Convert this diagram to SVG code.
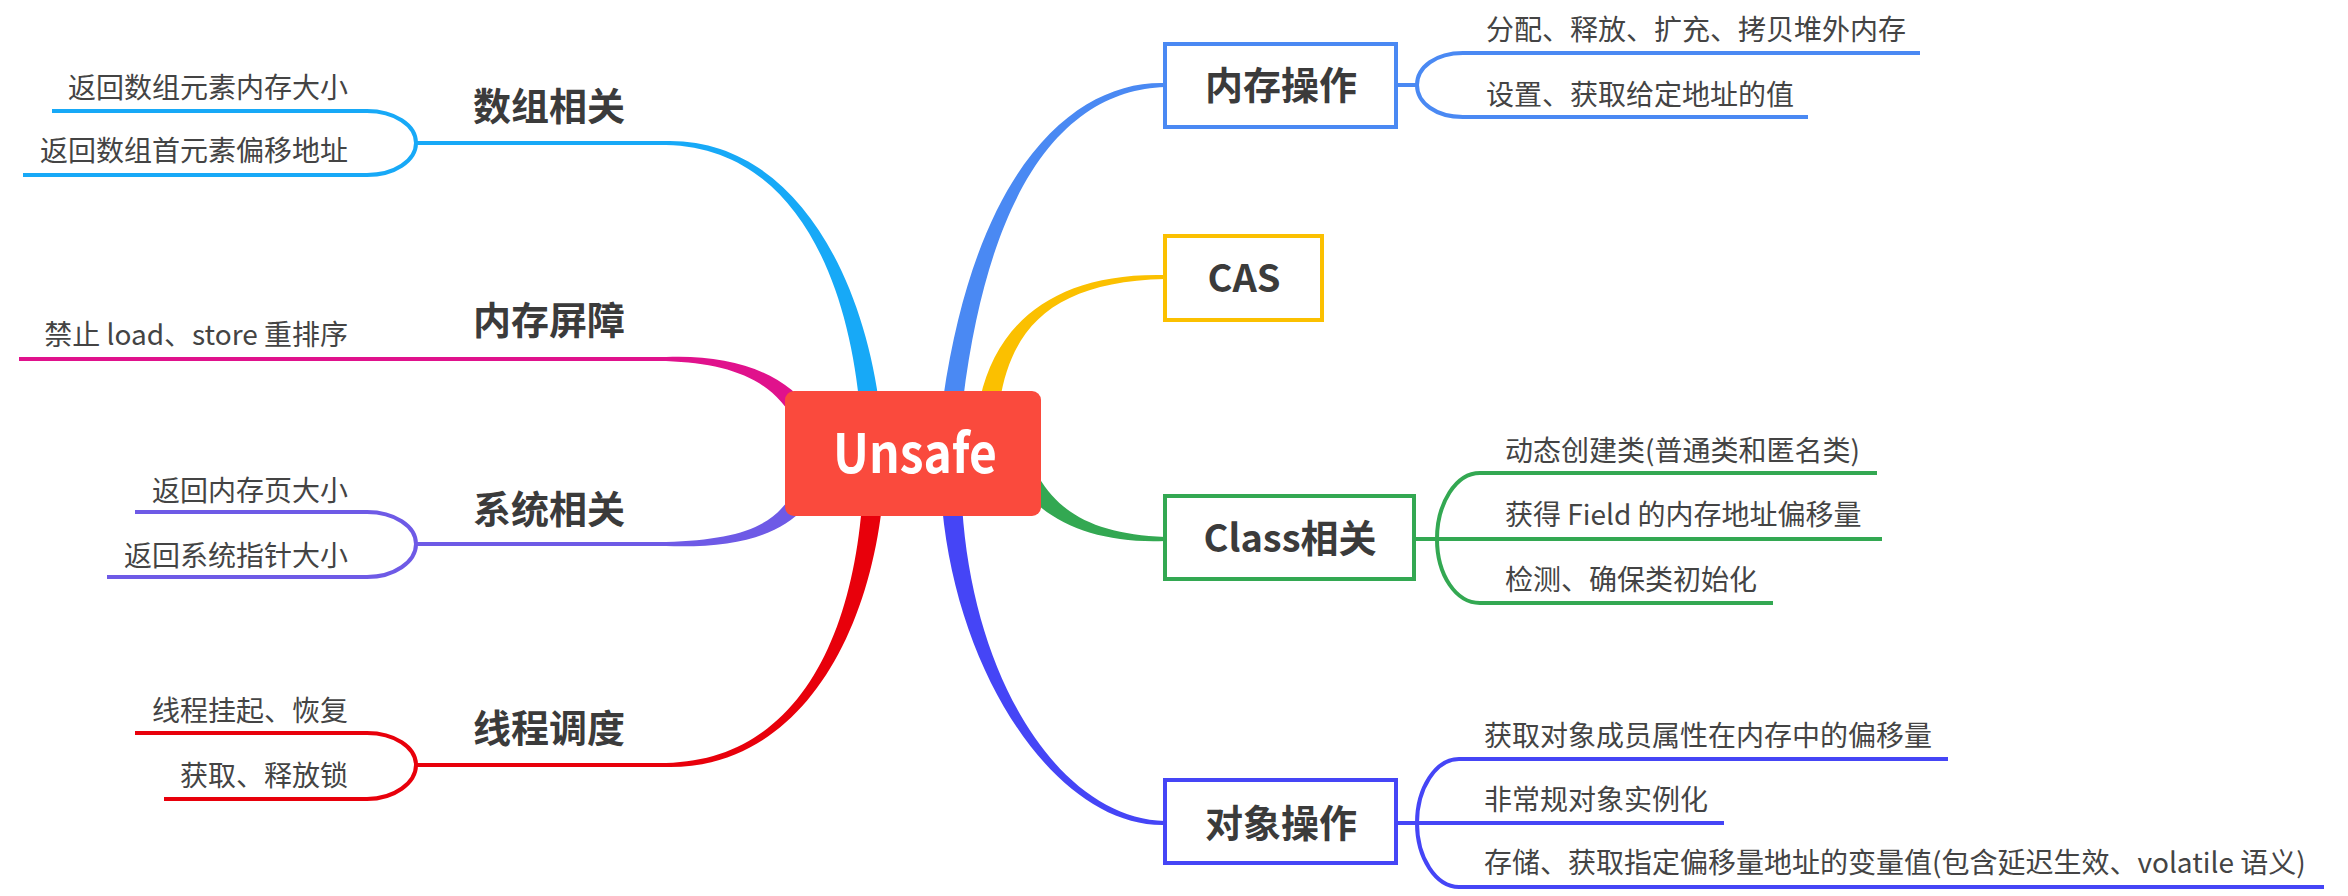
<svg xmlns="http://www.w3.org/2000/svg" width="2348" height="896" viewBox="0 0 2348 896">
<style>
.sub{font-family:"Noto Sans CJK SC","Microsoft YaHei",sans-serif;font-size:28px;fill:#444444}
.end{text-anchor:end}
.hd{font-family:"Noto Sans CJK SC","Microsoft YaHei",sans-serif;font-size:38px;font-weight:700;fill:#3b3b3b;text-anchor:middle}
.ln{fill:none;stroke-width:4}
.box{fill:#ffffff;stroke-width:4}
</style>
<rect width="2348" height="896" fill="#ffffff"/>
<g id="connectors">
  <g id="c-array">
    <path d="M879.9,408.9 C862.3,269.2 790,138.3 666,141 L666,145 C790,147.7 847.7,270.8 860.1,411.1 Z" fill="#17A9F7"/>
    <path class="ln" stroke="#17A9F7" d="M416,143 H667 M52,111 H367 C394,111 416,125 416,143 C416,161 394,175 367,175 H23"/>
  </g>
  <g id="c-barrier">
    <path d="M813.7,415.1 C786.4,371.4 730,354.3 666,357 L666,361 C730,363.7 773.6,378.6 796.3,424.9 Z" fill="#E0128C"/>
    <path class="ln" stroke="#E0128C" d="M19,359 H667"/>
  </g>
  <g id="c-system">
    <path d="M796.1,485.5 C778.4,526.7 740,539.3 666,542 L666,546 C740,548.7 791.6,533.3 813.9,494.5 Z" fill="#6E5AE6"/>
    <path class="ln" stroke="#6E5AE6" d="M416,544 H667 M135,512 H367 C394,512 416,526 416,544 C416,562 394,577 367,577 H107"/>
  </g>
  <g id="c-thread">
    <path d="M862,504 C850.7,649.3 790,760.3 666,763 L666,767 C790,769.7 865.3,650.7 882,506 Z" fill="#E8000B"/>
    <path class="ln" stroke="#E8000B" d="M416,765 H667 M135,733 H367 C394,733 416,747 416,765 C416,783 394,799 367,799 H164"/>
  </g>
  <g id="c-memory">
    <path d="M962.9,401.3 C992.3,161 1080,89.7 1165,87 L1165,83 C1080,80.3 977.7,159 943.1,398.7 Z" fill="#4A89F3"/>
    <path class="ln" stroke="#4A89F3" d="M1396,85 H1417 M1920,53 H1463 C1436,53 1417,67 1417,85 C1417,103 1436,117 1463,117 H1808"/>
  </g>
  <g id="c-cas">
    <path d="M999.8,401.8 C1012.2,321.4 1060,281.7 1165,279 L1165,275 C1060,272.3 997.8,318.6 980.2,398.2 Z" fill="#FBC000"/>
  </g>
  <g id="c-class">
    <path d="M1021.7,487.5 C1048.9,524 1100,543.7 1165,541 L1165,537 C1100,534.3 1061.1,516 1038.4,476.5 Z" fill="#33A852"/>
    <path class="ln" stroke="#33A852" d="M1414,539 H1882 M1877,473 H1480 C1456,473 1437,503 1437,539 C1437,575 1456,603 1480,603 H1773"/>
  </g>
  <g id="c-object">
    <path d="M942,505.7 C957.7,680.5 1060,827.7 1165,825 L1165,821 C1060,818.3 972.3,679.5 962,504.3 Z" fill="#4545F6"/>
    <path class="ln" stroke="#4545F6" d="M1396,823 H1724 M1948,759 H1459 C1436,759 1417,788 1417,823 C1417,858 1436,887 1459,887 H2324"/>
  </g>
</g>
<g id="root">
  <rect x="785" y="391" width="256" height="125" rx="9" fill="#FA4A3D"/>
  <text x="915" y="473" font-family="'Noto Sans CJK SC','Microsoft YaHei',sans-serif" font-size="54" font-weight="700" fill="#ffffff" text-anchor="middle" textLength="164" lengthAdjust="spacingAndGlyphs">Unsafe</text>
</g>
<g id="n-array">
  <text class="hd" x="549" y="120">数组相关</text>
  <text class="sub end" x="348" y="98">返回数组元素内存大小</text>
  <text class="sub end" x="348" y="161">返回数组首元素偏移地址</text>
</g>
<g id="n-barrier">
  <text class="hd" x="549" y="334">内存屏障</text>
  <text class="sub end" x="348" y="345">禁止 load、store 重排序</text>
</g>
<g id="n-system">
  <text class="hd" x="549" y="523">系统相关</text>
  <text class="sub end" x="348" y="501">返回内存页大小</text>
  <text class="sub end" x="348" y="566">返回系统指针大小</text>
</g>
<g id="n-thread">
  <text class="hd" x="549" y="742">线程调度</text>
  <text class="sub end" x="348" y="721">线程挂起、恢复</text>
  <text class="sub end" x="348" y="786">获取、释放锁</text>
</g>
<g id="n-memory">
  <rect class="box" x="1165" y="44" width="231" height="83" stroke="#4A89F3"/>
  <text class="hd" x="1281" y="99">内存操作</text>
  <text class="sub" x="1486" y="40">分配、释放、扩充、拷贝堆外内存</text>
  <text class="sub" x="1486" y="105">设置、获取给定地址的值</text>
</g>
<g id="n-cas">
  <rect class="box" x="1165" y="236" width="157" height="84" stroke="#FBC000"/>
  <text class="hd" x="1244" y="292">CAS</text>
</g>
<g id="n-class">
  <rect class="box" x="1165" y="496" width="249" height="83" stroke="#33A852"/>
  <text class="hd" x="1290" y="552">Class相关</text>
  <text class="sub" x="1505" y="461">动态创建类(普通类和匿名类)</text>
  <text class="sub" x="1505" y="525">获得 Field 的内存地址偏移量</text>
  <text class="sub" x="1505" y="590">检测、确保类初始化</text>
</g>
<g id="n-object">
  <rect class="box" x="1165" y="780" width="231" height="83" stroke="#4545F6"/>
  <text class="hd" x="1281" y="837">对象操作</text>
  <text class="sub" x="1484" y="746">获取对象成员属性在内存中的偏移量</text>
  <text class="sub" x="1484" y="810">非常规对象实例化</text>
  <text class="sub" x="1484" y="873">存储、获取指定偏移量地址的变量值(包含延迟生效、volatile 语义)</text>
</g>
</svg>
